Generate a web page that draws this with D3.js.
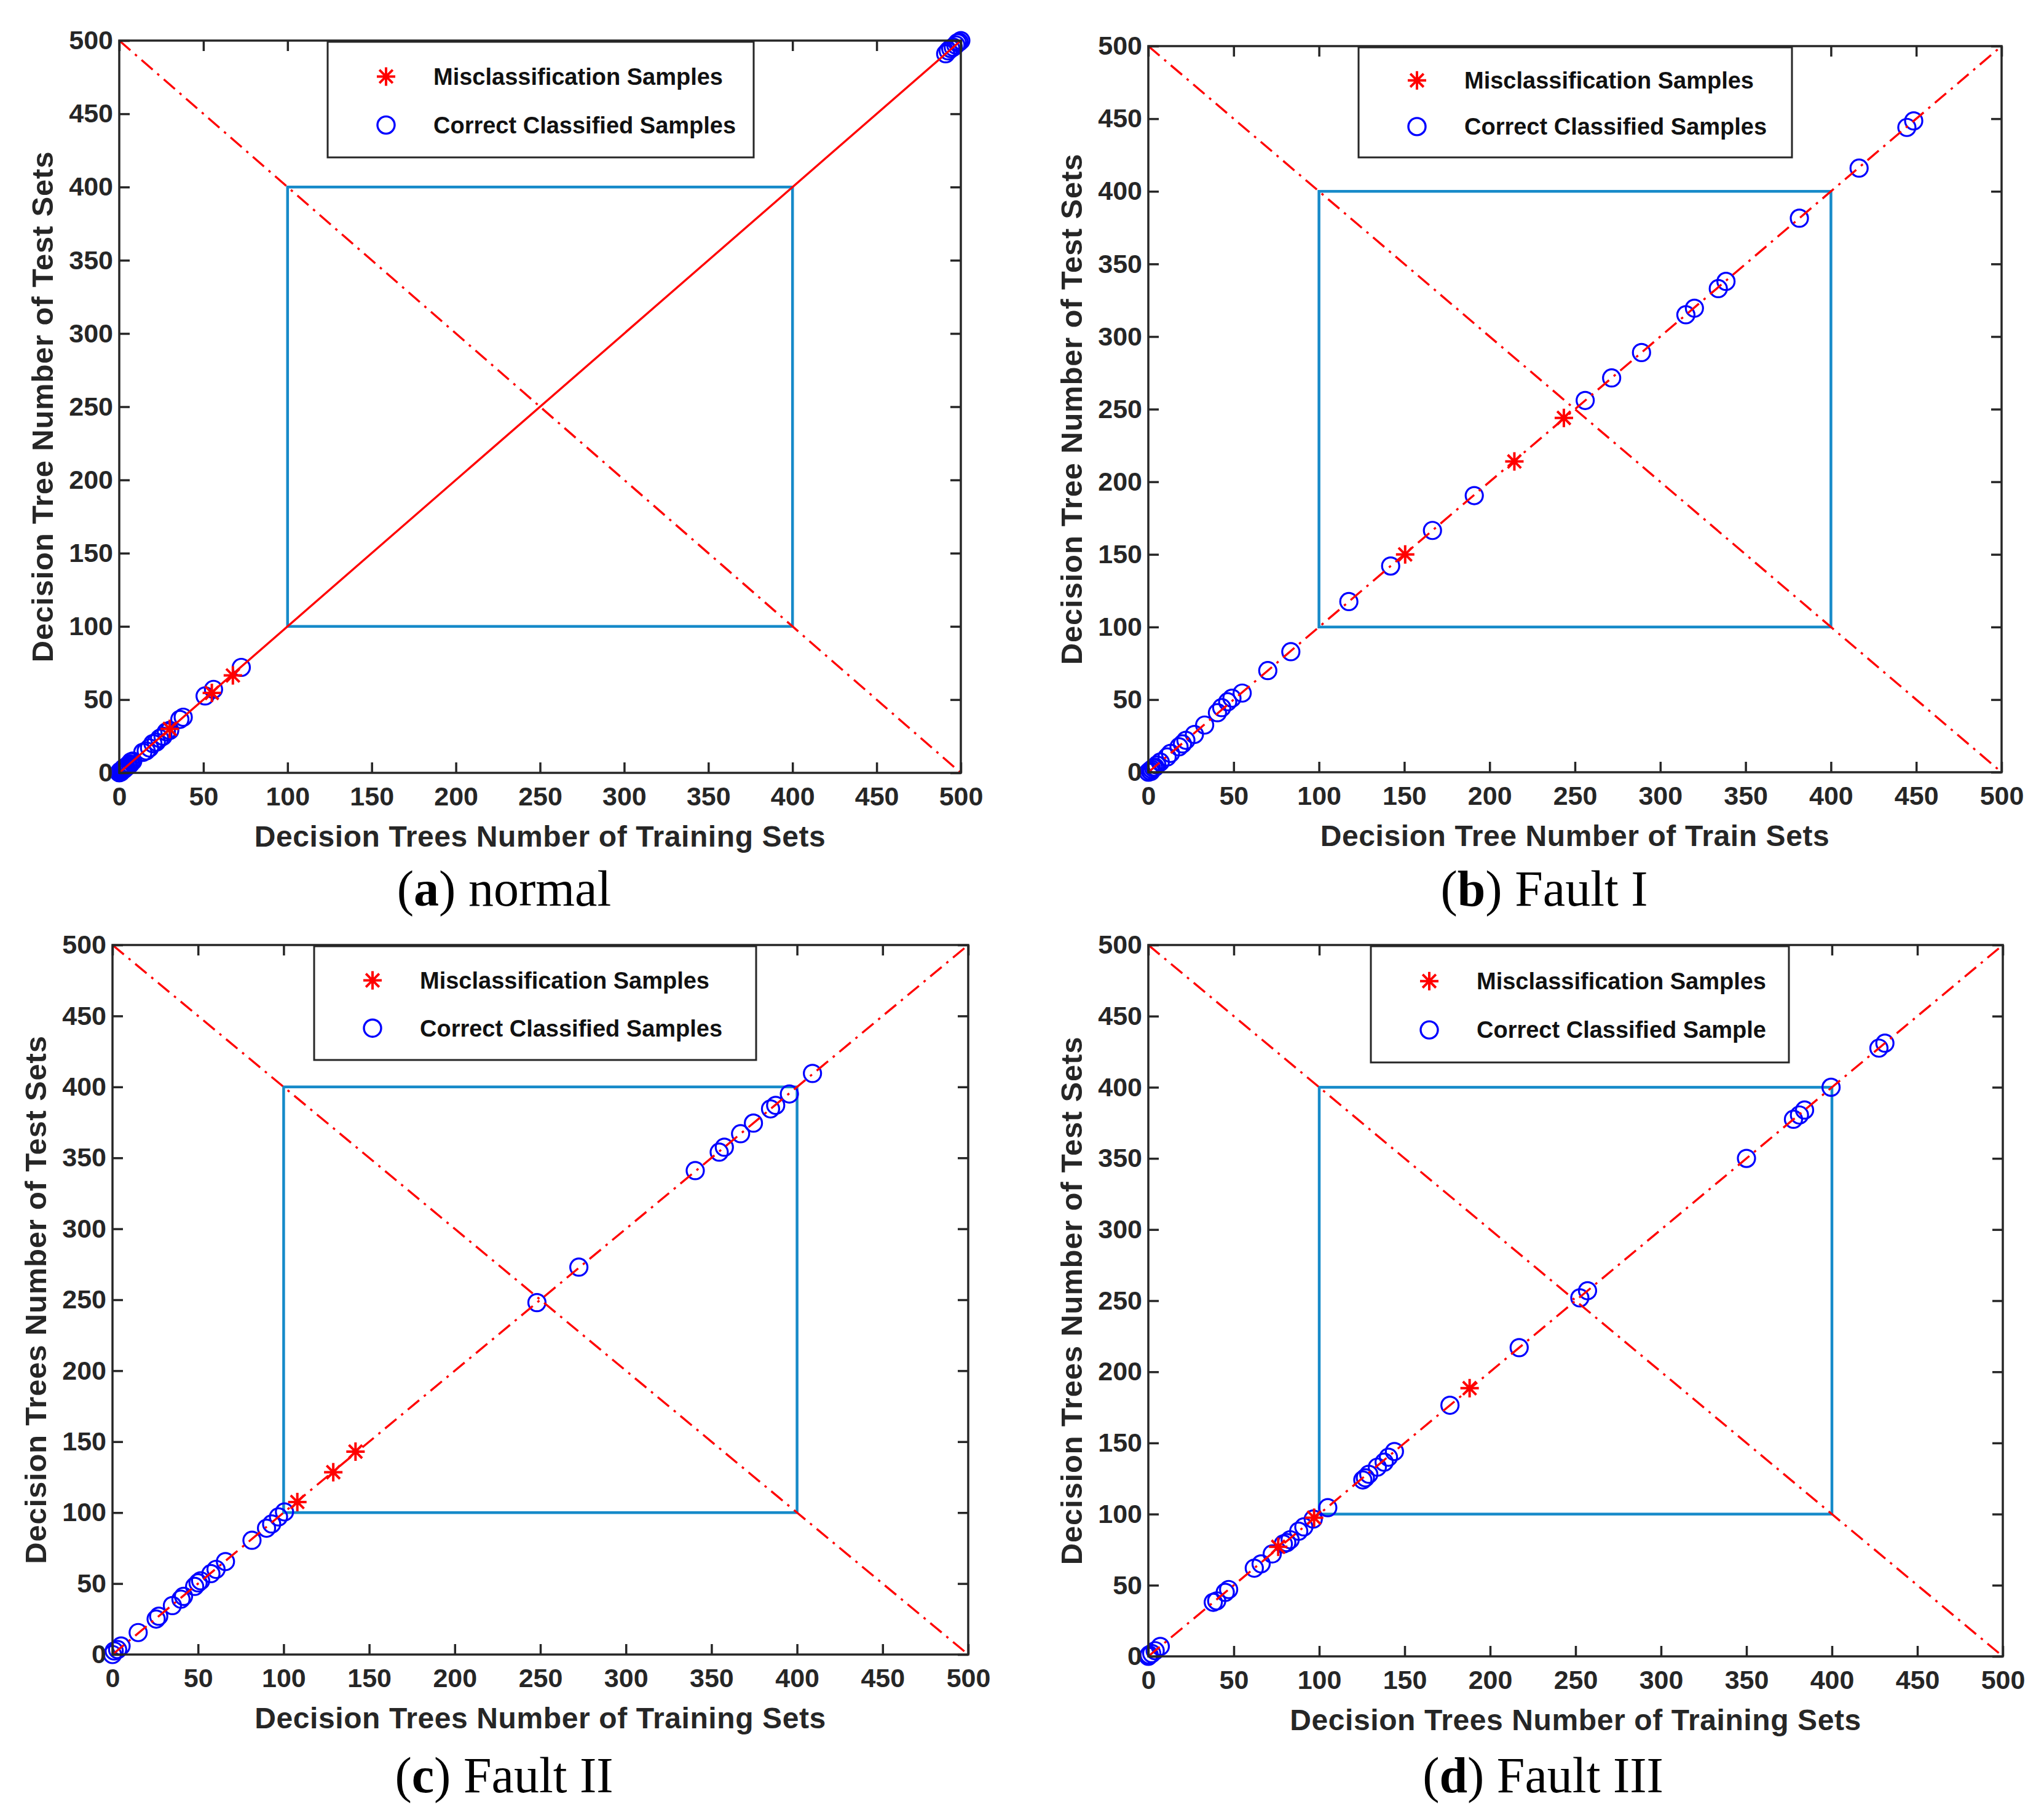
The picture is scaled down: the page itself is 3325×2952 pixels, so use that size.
<!DOCTYPE html>
<html><head><meta charset="utf-8">
<script src="https://cdn.jsdelivr.net/npm/d3@7"></script>
<style>body{margin:0;background:#fff}</style>
</head><body>
<script>
// ---------- data ----------
const ticks = [0,50,100,150,200,250,300,350,400,450,500];
const axisDomain = [0,500];
const boxCorners = [[100,100],[400,400]];
const diagMain = [[0,0],[500,500]];
const diagAnti = [[0,500],[500,0]];

const aCorrect = [[0,0],[0.5,1],[1,0.5],[1.5,1.5],[2,2],[2.5,3],[3,2.5],[3.5,3.5],[4,4],[5,4.5],[5.5,5.5],[6.5,6],[7,7.5],[8,8],[14,14],[16,15],[18,17],[20,20],[22,21],[24,23.5],[26,25],[28,28],[30,29],[36,36.5],[38,38],[51,52.5],[56,57],[72.5,72],[491,491],[492.5,493],[494,494.5],[495.5,495.5],[497,497],[498,498.5],[499,499],[500,500]];
const aMis = [[30,30],[55,54.6],[67.5,66.5]];

const bCorrect = [[0,0],[1,1],[1.5,0.5],[2,2],[3,3],[4,3.5],[5,5],[7,7],[11,10.5],[13,13],[18,17.5],[20,19.5],[22,22],[27,26],[33,32.5],[40.5,41],[43,44.5],[46.5,48.5],[49,51],[55,54.5],[70,70],[83.5,83],[117.5,117.5],[142,142],[166.5,166.5],[191,190.5],[256,256],[271.5,271.5],[289,289],[315,315],[320,319.5],[334,333],[338.5,338],[381.5,381.5],[416.5,416],[444.5,444],[448.5,448.5]];
const bMis = [[150.5,150],[214.5,214],[243.5,244]];

const cCorrect = [[0,0],[1,2.5],[3,3.5],[5,6],[15,15.5],[25.5,25],[27,27],[35,34.5],[40,39],[41.5,41],[48,48],[50,50.5],[51.5,52],[57.5,57],[60.5,60],[66,65.5],[81.5,80.5],[90,89],[93,92],[97,97],[100.5,100.5],[248,248],[272.5,273],[340.5,341],[354.5,354],[357.5,357.5],[367,367],[374.5,374.5],[384.5,384.5],[387.5,387],[395.5,395],[409,409.5]];
const cMis = [[108,107.5],[129,128.5],[142,143]];

const dCorrect = [[0,0],[0.5,1],[2,2],[4,4],[7,7],[38,38],[40,39],[45,45],[47,47],[62,62],[66,65],[72.5,72],[79,79],[81,80],[83,82],[88,88],[91,91],[96.5,96.5],[105,104.5],[125.5,124],[127,125.5],[129,128],[134,133],[138,136.5],[140.5,140],[144,144],[176.5,176.5],[217,217],[252.5,252],[257,257],[350,350],[377.5,377.5],[381,380.5],[384,384],[399.5,400],[427.5,427.5],[431,431]];
const dMis = [[76,77],[97,97.5],[188,188.5]];

const legendMis = "Misclassification Samples";
const legendCorrect = ["Correct Classified Samples","Correct Classified Samples","Correct Classified Samples","Correct Classified Sample"];
const xTitles = ["Decision Trees Number of Training Sets","Decision Tree Number of Train Sets","Decision Trees Number of Training Sets","Decision Trees Number of Training Sets"];
const yTitles = ["Decision Tree Number of Test Sets","Decision Tree Number of Test Sets","Decision Trees Number of Test Sets","Decision Trees Number of Test Sets"];
const capLetters = ["a","b","c","d"];
const capNames = [" normal"," Fault I"," Fault II"," Fault III"];

// ---------- layout ----------
const layouts = [
  {x0:194, x1:1563, y0:1257, y1:66,  lg:{l:533, t:68,  r:1226, b:256},  capX:820,  capY:1473, solidMain:true},
  {x0:1868,x1:3256, y0:1256, y1:75,  lg:{l:2210,t:77,  r:2915, b:256},  capX:2512, capY:1473, solidMain:false},
  {x0:183, x1:1575, y0:2691, y1:1537,lg:{l:511, t:1539,r:1230, b:1724}, capX:820,  capY:2915, solidMain:false},
  {x0:1868,x1:3258, y0:2694, y1:1537,lg:{l:2230,t:1539,r:2910, b:1728}, capX:2510, capY:2915, solidMain:false}
];
const correctSets = [aCorrect,bCorrect,cCorrect,dCorrect];
const misSets = [aMis,bMis,cMis,dMis];

const W=3325, H=2952;
const AX="#262626", RED="#ff0000", BLUE="#0000ff", BOX="#168ac9";
const SANS="'Liberation Sans', Arial, Helvetica, sans-serif";
const SERIF="'Liberation Serif', 'Times New Roman', serif";
const R=14, STAR=15;
const DASH="24,10,4,10";

const svg = d3.select("body").append("svg").attr("width",W).attr("height",H)
  .style("background","#fff");

function starPath(cx,cy,s){
  const p=d3.path(); const d=s*0.72;
  p.moveTo(cx-s,cy); p.lineTo(cx+s,cy);
  p.moveTo(cx,cy-s); p.lineTo(cx,cy+s);
  p.moveTo(cx-d,cy-d); p.lineTo(cx+d,cy+d);
  p.moveTo(cx-d,cy+d); p.lineTo(cx+d,cy-d);
  return p.toString();
}

layouts.forEach((L,i)=>{
  const x=d3.scaleLinear().domain(axisDomain).range([L.x0,L.x1]);
  const y=d3.scaleLinear().domain(axisDomain).range([L.y0,L.y1]);
  const g=svg.append("g");
  const line=d3.line().x(d=>x(d[0])).y(d=>y(d[1]));

  // blue box
  g.append("rect")
    .attr("x",x(boxCorners[0][0])).attr("y",y(boxCorners[1][1]))
    .attr("width",x(boxCorners[1][0])-x(boxCorners[0][0]))
    .attr("height",y(boxCorners[0][1])-y(boxCorners[1][1]))
    .attr("fill","none").attr("stroke",BOX).attr("stroke-width",4.5);

  // correct circles
  g.append("g").selectAll("circle").data(correctSets[i]).join("circle")
    .attr("cx",d=>x(d[0])).attr("cy",d=>y(d[1])).attr("r",R)
    .attr("fill","none").attr("stroke",BLUE).attr("stroke-width",3.2);

  // misclassified stars
  g.append("g").selectAll("path").data(misSets[i]).join("path")
    .attr("d",d=>starPath(x(d[0]),y(d[1]),STAR))
    .attr("fill","none").attr("stroke",RED).attr("stroke-width",4);

  // diagonals
  g.append("path").attr("d",line(diagMain)).attr("fill","none")
    .attr("stroke",RED).attr("stroke-width",3.4)
    .attr("stroke-dasharray",L.solidMain?null:DASH);
  g.append("path").attr("d",line(diagAnti)).attr("fill","none")
    .attr("stroke",RED).attr("stroke-width",3.4)
    .attr("stroke-dasharray",DASH);

  // axes box
  g.append("rect").attr("x",L.x0).attr("y",L.y1)
    .attr("width",L.x1-L.x0).attr("height",L.y0-L.y1)
    .attr("fill","none").attr("stroke",AX).attr("stroke-width",3.5);

  const TL=17;
  const xb=d3.axisBottom(x).tickValues(ticks).tickSize(-TL).tickPadding(22).tickFormat(d3.format("d"));
  const xt=d3.axisTop(x).tickValues(ticks).tickSize(-TL).tickFormat("");
  const yl=d3.axisLeft(y).tickValues(ticks).tickSize(-TL).tickPadding(10).tickFormat(d3.format("d"));
  const yr=d3.axisRight(y).tickValues(ticks).tickSize(-TL).tickFormat("");
  const styleAx=sel=>{
    sel.select(".domain").remove();
    sel.selectAll(".tick line").attr("stroke",AX).attr("stroke-width",3.5);
    sel.selectAll(".tick text").attr("fill",AX).style("font-family",SANS)
      .style("font-size","43px").style("font-weight","bold");
  };
  g.append("g").attr("transform",`translate(0,${L.y0})`).call(xb).call(styleAx);
  g.append("g").attr("transform",`translate(0,${L.y1})`).call(xt).call(styleAx);
  g.append("g").attr("transform",`translate(${L.x0},0)`).call(yl).call(styleAx);
  g.append("g").attr("transform",`translate(${L.x1},0)`).call(yr).call(styleAx);

  // axis titles
  g.append("text").attr("x",(L.x0+L.x1)/2).attr("y",L.y0+120)
    .attr("text-anchor","middle").attr("fill",AX)
    .style("font-family",SANS).style("font-size","48px").style("font-weight","bold")
    .style("letter-spacing","0.6px")
    .text(xTitles[i]);
  g.append("text")
    .attr("transform",`translate(${L.x0-108},${(L.y0+L.y1)/2}) rotate(-90)`)
    .attr("text-anchor","middle").attr("fill",AX)
    .style("font-family",SANS).style("font-size","49px").style("font-weight","bold")
    .style("letter-spacing","0.8px")
    .text(yTitles[i]);

  // legend
  const lg=L.lg, lh=lg.b-lg.t;
  g.append("rect").attr("x",lg.l).attr("y",lg.t).attr("width",lg.r-lg.l).attr("height",lh)
    .attr("fill","#fff").attr("stroke",AX).attr("stroke-width",3);
  const r1=lg.t+lh*0.3, r2=lg.t+lh*0.72;
  g.append("path").attr("d",starPath(lg.l+95,r1,STAR)).attr("fill","none")
    .attr("stroke",RED).attr("stroke-width",4);
  g.append("circle").attr("cx",lg.l+95).attr("cy",r2).attr("r",R)
    .attr("fill","none").attr("stroke",BLUE).attr("stroke-width",3.4);
  [[legendMis,r1],[legendCorrect[i],r2]].forEach(([t,yy])=>{
    g.append("text").attr("x",lg.l+172).attr("y",yy).attr("dy","0.35em")
      .attr("fill","#111").style("font-family",SANS).style("font-size","38px")
      .style("font-weight","bold").text(t);
  });

  // caption
  const cap=g.append("text").attr("x",L.capX).attr("y",L.capY).attr("text-anchor","middle")
    .attr("fill","#000").style("font-family",SERIF).style("font-size","82px");
  cap.append("tspan").text("(");
  cap.append("tspan").style("font-weight","bold").text(capLetters[i]);
  cap.append("tspan").text(")"+capNames[i]);
});
</script>
</body></html>
